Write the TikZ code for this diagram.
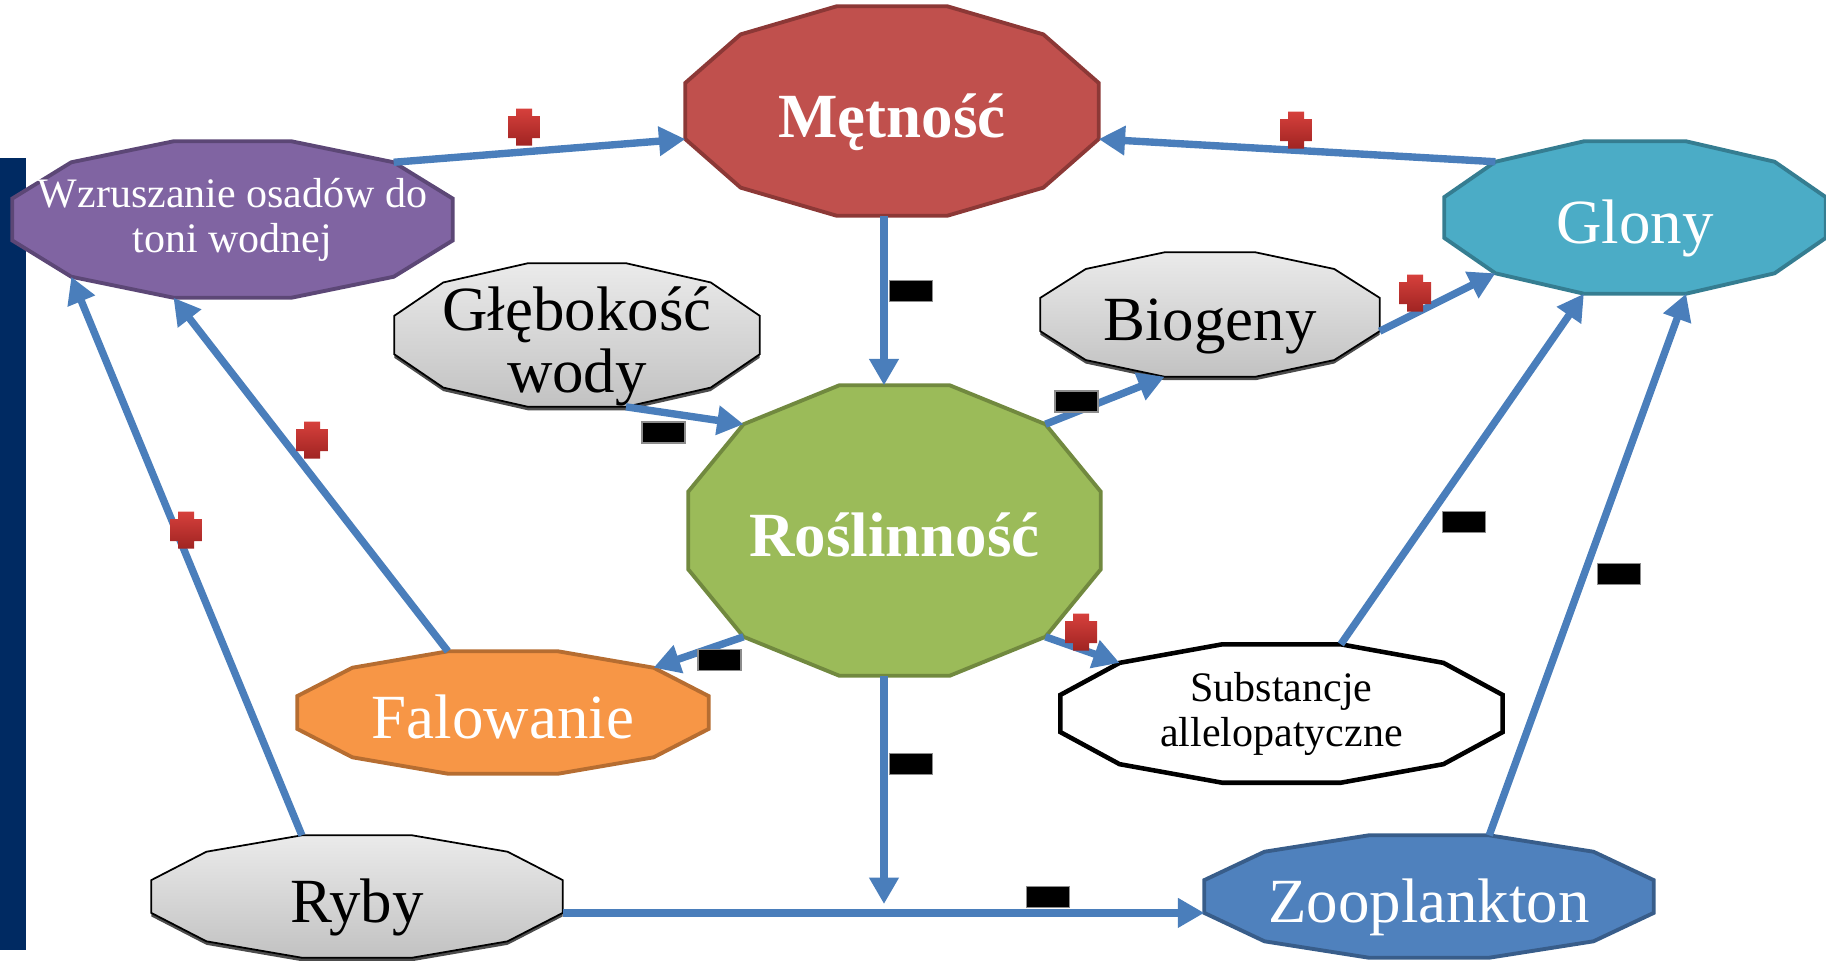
\documentclass[tikz,border=0pt]{standalone}
\usepackage{fontspec}
\setmainfont{Liberation Serif}
\usetikzlibrary{arrows.meta,calc,backgrounds}

\definecolor{linkblue}{RGB}{74,126,187}
\definecolor{navybar}{RGB}{0,42,98}
\definecolor{metfill}{RGB}{192,80,77}
\definecolor{metline}{RGB}{140,56,54}
\definecolor{roslfill}{RGB}{155,187,89}
\definecolor{roslline}{RGB}{113,137,63}
\definecolor{wzfill}{RGB}{128,100,162}
\definecolor{wzline}{RGB}{92,71,118}
\definecolor{falfill}{RGB}{247,150,70}
\definecolor{falline}{RGB}{182,109,49}
\definecolor{glonyfill}{RGB}{75,172,198}
\definecolor{glonyline}{RGB}{53,125,145}
\definecolor{zoofill}{RGB}{79,129,189}
\definecolor{zooline}{RGB}{56,93,138}
\definecolor{plustop}{RGB}{214,64,60}
\definecolor{plusbot}{RGB}{160,36,34}

% 12-gon round a node, corners named <node>-1 ... <node>-12
\newcommand{\dodeca}[2]{%
  \path[#2]
       ($(#1.east)!0.268!(#1.north east)$) coordinate (#1-1)
    -- ($(#1.center)!0.732!(#1.north east)$) coordinate (#1-2)
    -- ($(#1.north)!0.268!(#1.north east)$) coordinate (#1-3)
    -- ($(#1.north)!0.268!(#1.north west)$) coordinate (#1-4)
    -- ($(#1.center)!0.732!(#1.north west)$) coordinate (#1-5)
    -- ($(#1.west)!0.268!(#1.north west)$) coordinate (#1-6)
    -- ($(#1.west)!0.268!(#1.south west)$) coordinate (#1-7)
    -- ($(#1.center)!0.732!(#1.south west)$) coordinate (#1-8)
    -- ($(#1.south)!0.268!(#1.south west)$) coordinate (#1-9)
    -- ($(#1.south)!0.268!(#1.south east)$) coordinate (#1-10)
    -- ($(#1.center)!0.732!(#1.south east)$) coordinate (#1-11)
    -- ($(#1.east)!0.268!(#1.south east)$) coordinate (#1-12)
    -- cycle;}

\tikzset{
  concept/.style={rectangle, inner sep=0pt, align=center},
  bigtext/.style={font=\fontsize{17.9}{17.6}\selectfont, text height=17.8pt, text depth=3pt},
  boldtext/.style={bigtext, font=\fontsize{17.9}{17.6}\selectfont\bfseries},
  smalltext/.style={font=\fontsize{11.95}{12.8}\selectfont},
  colpoly/.style 2 args={fill=#1, draw=#2, line width=1.1pt},
  graypoly/.style={top color=black!8, bottom color=black!24, draw=black, line width=0.5pt,
    preaction={fill=black!70, transform canvas={yshift=-1pt}}},
  arrowlink/.style={->, line width=2.1pt, draw=linkblue},
  minusmark/.style={fill=black, draw=black!45, line width=0.3pt, minimum width=0.43cm,
    minimum height=0.21cm, inner sep=0pt},
  plusmark/.style={minimum width=0.32cm, minimum height=0.37cm, inner sep=0pt,
    path picture={\shade[top color=plustop, bottom color=plusbot,
      shift={(path picture bounding box.center)}]
      (-0.08,0.185) -- (0.08,0.185) -- (0.08,0.11) -- (0.16,0.11) -- (0.16,-0.11)
      -- (0.08,-0.11) -- (0.08,-0.185) -- (-0.08,-0.185) -- (-0.08,-0.11)
      -- (-0.16,-0.11) -- (-0.16,0.11) -- (-0.08,0.11) -- cycle;}}
}

\begin{document}
\begin{tikzpicture}[>={Triangle[length=7.5pt,width=8pt]}]
  \useasboundingbox (0,0) rectangle (18.26,-9.6);

  \node[concept, boldtext, white, minimum width=4.12cm, minimum height=2.08cm] (met) at (8.92,-1.11) {Mętność};
  \node[concept, boldtext, white, minimum width=4.11cm, minimum height=2.89cm] (rosl) at (8.945,-5.305) {Roślinność};
  \node[concept, smalltext, white, minimum width=4.39cm, minimum height=1.55cm] (wz) at (2.325,-2.195) {Wzruszanie osadów do\\toni wodnej};
  \node[concept, font=\fontsize{17.9}{17.6}\selectfont, minimum width=3.64cm, minimum height=1.24cm] (glab) at (5.77,-3.35) {\rule{0pt}{19pt}Głębokość\\wody};
  \node[concept, bigtext, minimum width=3.38cm, minimum height=1.23cm] (bio) at (12.10,-3.145) {Biogeny};
  \node[concept, bigtext, white, minimum width=3.80cm, minimum height=1.51cm] (glony) at (16.35,-2.175) {Glony};
  \node[concept, bigtext, white, minimum width=4.10cm, minimum height=1.21cm] (fal) at (5.03,-7.125) {Falowanie};
  \node[concept, smalltext, minimum width=4.41cm, minimum height=1.37cm] (subst) at (12.815,-7.135) {Substancje\\allelopatyczne};
  \node[concept, bigtext, minimum width=4.10cm, minimum height=1.21cm] (ryby) at (3.57,-8.965) {Ryby};
  \node[concept, bigtext, white, minimum width=4.48cm, minimum height=1.21cm] (zoo) at (14.29,-8.965) {Zooplankton};

  \begin{pgfonlayer}{background}
    \fill[navybar] (0,-1.58) rectangle (0.26,-9.50);
    \dodeca{met}{colpoly={metfill}{metline}}
    \dodeca{rosl}{colpoly={roslfill}{roslline}}
    \dodeca{wz}{colpoly={wzfill}{wzline}}
    \dodeca{glony}{colpoly={glonyfill}{glonyline}}
    \dodeca{fal}{colpoly={falfill}{falline}}
    \dodeca{zoo}{colpoly={zoofill}{zooline}}
    \dodeca{glab}{graypoly}
    \dodeca{bio}{graypoly}
    \dodeca{ryby}{graypoly}
    \dodeca{subst}{fill=white, draw=black, line width=1.3pt}
  \end{pgfonlayer}

  \coordinate (hit) at (8.84,-9.04);

  \draw[arrowlink] (wz-2) -- (met-7);
  \draw[arrowlink] (glony-5) -- (met-12);
  \draw[arrowlink] (met.south -| hit) -- (rosl.north -| hit);
  \draw[arrowlink] (glab-10) -- (rosl-5);
  \draw[arrowlink] (rosl-2) -- (bio-9);
  \draw[arrowlink] (bio-12) -- (glony-8);
  \draw[arrowlink] (rosl-8) -- (fal-2);
  \draw[arrowlink] (rosl-11) -- (subst-5);
  \draw[arrowlink] (rosl.south -| hit) -- (hit);
  \draw[arrowlink] (ryby-12) -- (zoo-7);
  \draw[arrowlink] (subst-3) -- (glony-9);
  \draw[arrowlink] (zoo-3) -- (glony-10);
  \draw[arrowlink] (fal-4) -- (wz-9);
  \draw[arrowlink] (ryby-4) -- (wz-8);

  \node[plusmark] (p1) at (5.24,-1.27) {};
  \node[plusmark] (p2) at (12.96,-1.30) {};
  \node[plusmark] (p3) at (14.15,-2.93) {};
  \node[plusmark] (p4) at (10.81,-6.32) {};
  \node[plusmark] (p5) at (3.12,-4.40) {};
  \node[plusmark] (p6) at (1.86,-5.30) {};

  \node[minusmark] (m1) at (9.11,-2.91) {};
  \node[minusmark] (m2) at (6.635,-4.325) {};
  \node[minusmark] (m3) at (10.765,-4.015) {};
  \node[minusmark] (m4) at (7.195,-6.60) {};
  \node[minusmark] (m5) at (9.11,-7.64) {};
  \node[minusmark] (m6) at (10.48,-8.97) {};
  \node[minusmark] (m7) at (14.64,-5.22) {};
  \node[minusmark] (m8) at (16.19,-5.74) {};
\end{tikzpicture}
\end{document}
